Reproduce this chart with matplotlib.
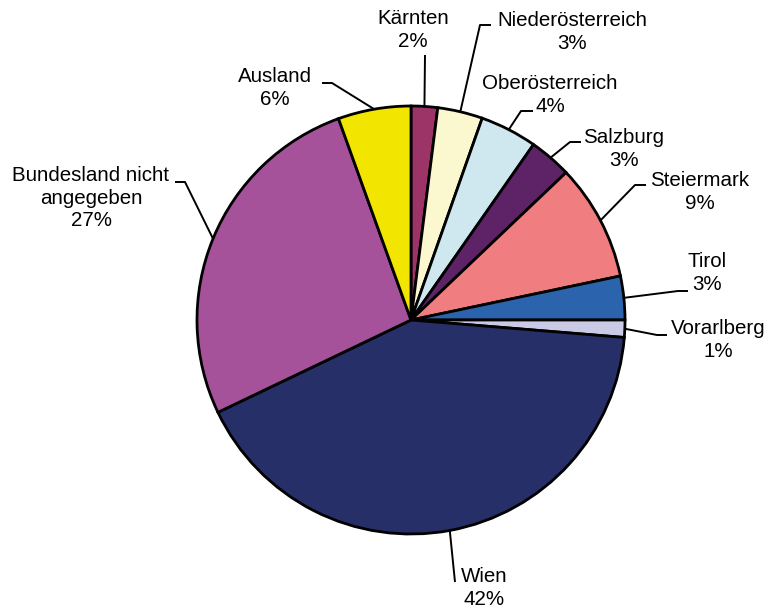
import matplotlib
matplotlib.use("Agg")
import matplotlib.pyplot as plt
import numpy as np

plt.rcParams['font.family'] = ['Liberation Sans', 'DejaVu Sans']

# Data
regions = ['Kärnten', 'Niederösterreich', 'Oberösterreich', 'Salzburg', 'Steiermark',
           'Tirol', 'Vorarlberg', 'Wien', 'Bundesland nicht\nangegeben', 'Ausland']
shares = [2.0, 3.4, 4.3, 3.2, 8.8, 3.3, 1.3, 41.6, 26.6, 5.5]
pct_labels = ['2%', '3%', '4%', '3%', '9%', '3%', '1%', '42%', '27%', '6%']
colors = ['#9c3468', '#fbf7cf', '#cfe8f0', '#5e2266', '#f07e80',
          '#2b64ac', '#cbcae6', '#262f67', '#a5529a', '#f2e500']

# layout (pixel coords, y down): label block centre and elbow / end of leader
H = 611
label_pos = [(413, 30), (572, 32), (550, 95), (624, 149), (700, 192),
             (707, 273), (718, 340), (484, 588), (91, 198), (275, 88)]
elbows = [[(425, 55)], [(480, 25), (491, 25)], [(521, 111), (533, 111)],
          [(570, 142), (581, 142)], [(635, 185), (646, 185)],
          [(678, 291), (688, 291)], [(657, 335), (667, 335)],
          [(455, 582)], [(185, 182), (175, 182)], [(332, 83), (322, 83)]]

cx, cy, R = 411, H - 320, 214

fig = plt.figure(figsize=(7.72, 6.11), dpi=100)
ax = fig.add_axes([0, 0, 1, 1])

wedges, _ = ax.pie(shares, colors=colors, startangle=90, counterclock=False,
                   center=(cx, cy), radius=R,
                   wedgeprops=dict(edgecolor='black', linewidth=2.0))
ax.set_xlim(0, 772)
ax.set_ylim(0, H)
ax.set_aspect('equal')
ax.axis('off')

for w, name, pct, (tx, ty), pts in zip(wedges, regions, pct_labels, label_pos, elbows):
    ang = np.deg2rad((w.theta1 + w.theta2) / 2)
    sx, sy = cx + R * np.cos(ang), cy + R * np.sin(ang)
    xs = [sx] + [p[0] for p in pts]
    ys = [sy] + [H - p[1] for p in pts]
    ax.plot(xs, ys, color='black', lw=1.4, solid_capstyle='butt', zorder=0)
    ax.text(tx, H - ty, name + '\n' + pct, ha='center', va='center',
            fontsize=14.8, linespacing=1.22)

fig.savefig('out.png', dpi=100)
